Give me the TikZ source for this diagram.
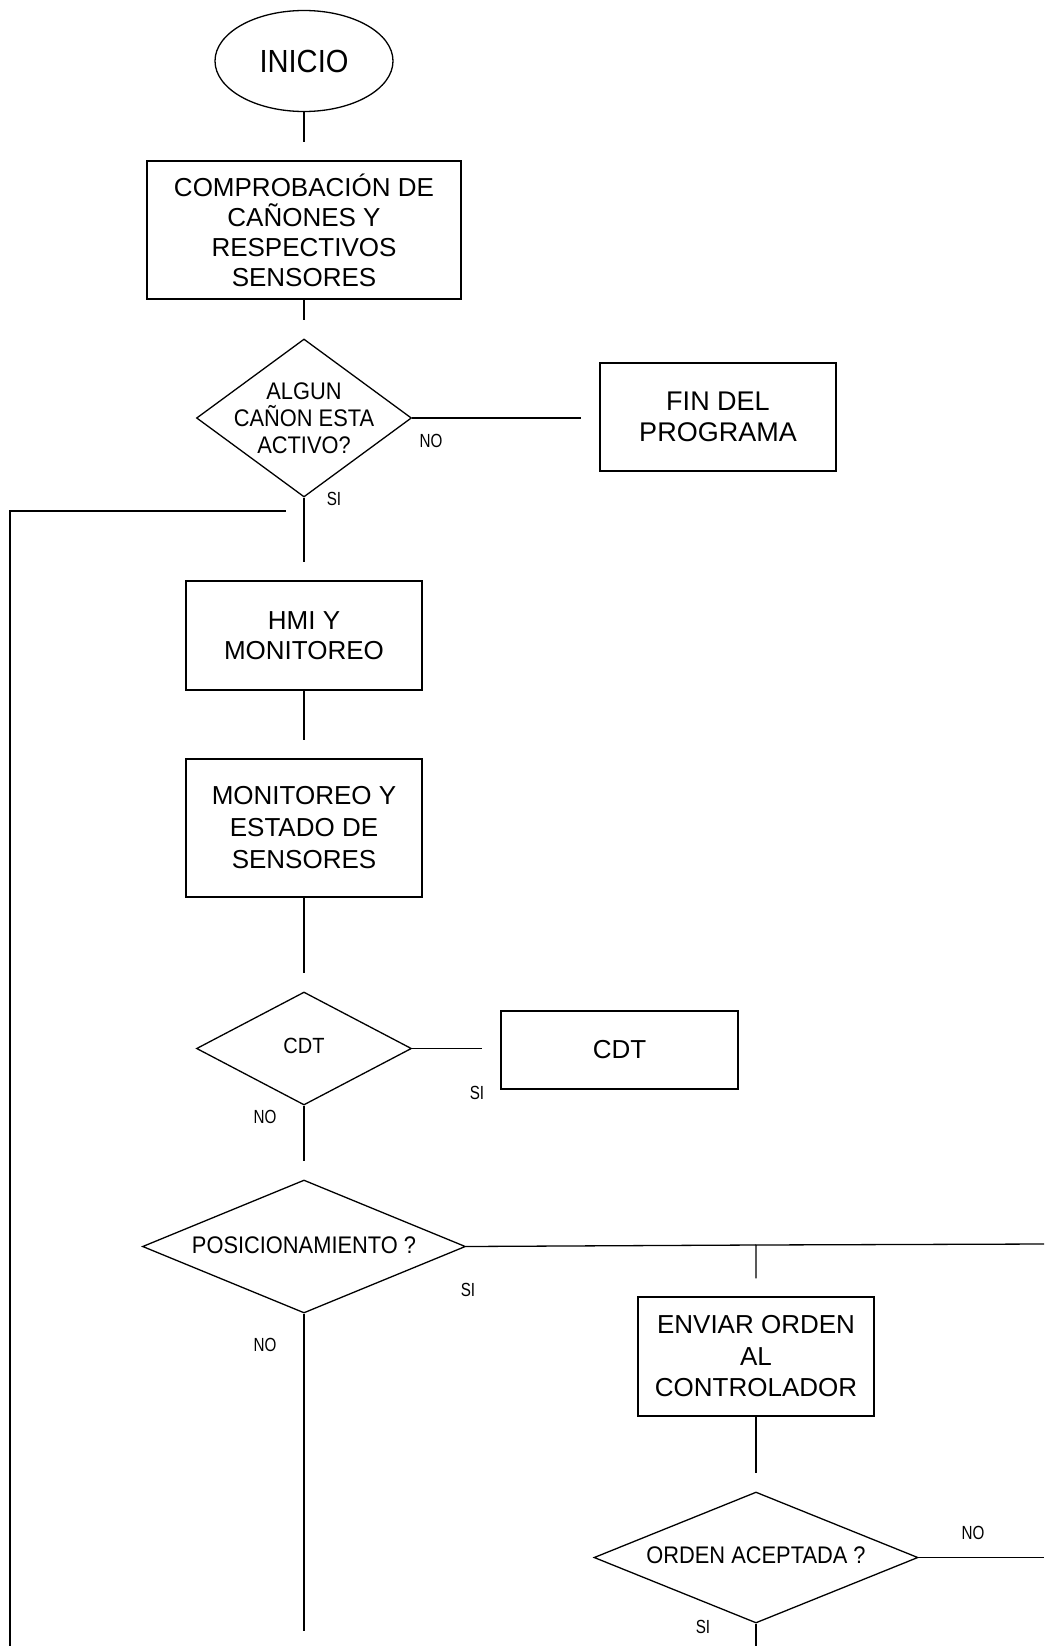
\documentclass[tikz,border=0pt]{standalone}
\usepackage{fontspec}
\setmainfont{Liberation Sans}
\newfontfamily\condsans[FakeStretch=0.91]{Liberation Sans}
\newfontfamily\narrowsans[FakeStretch=0.8]{Liberation Sans}
\usetikzlibrary{shapes.geometric}
\begin{document}
\begin{tikzpicture}[x=1pt,y=-1pt,
  every node/.style={font=\fontsize{26}{30}\selectfont, align=center},
  line/.style={line width=1.3pt},
  conn/.style={line width=1.3pt, shorten >=18pt},
  procbox/.style={draw, rectangle, line width=1.3pt, inner sep=0pt},
  decis/.style={draw, diamond, line width=1.3pt, inner sep=0pt},
  lbl/.style={font=\narrowsans\fontsize{19}{20}\selectfont, inner sep=0pt},
  dtxt/.style={font=\condsans\fontsize{24}{27}\selectfont, inner sep=0pt}]
\useasboundingbox (0,0) rectangle (1044,1646);
% nodes
\node[draw, ellipse, line width=1.3pt, minimum width=178pt, minimum height=101pt, inner sep=0pt, font=\condsans\fontsize{32}{36}\selectfont] (ini) at (304,61) {INICIO};
\node[procbox, minimum width=314pt, minimum height=138pt] (comp) at (304,230) {COMPROBACIÓN DE\\CAÑONES Y\\RESPECTIVOS\\SENSORES};
\node[decis, minimum width=215pt, minimum height=158pt] (d1) at (304,418) {};
\node[dtxt] (d1t) at (d1) {ALGUN\\CAÑON ESTA\\ACTIVO?};
\node[procbox, minimum width=236pt, minimum height=108pt, font=\fontsize{27}{31}\selectfont] (fin) at (718,417) {FIN DEL\\PROGRAMA};
\node[procbox, minimum width=236pt, minimum height=109pt, font=\fontsize{26}{30.5}\selectfont] (hmi) at (304,635.5) {HMI Y\\MONITOREO};
\node[procbox, minimum width=236pt, minimum height=138pt, font=\fontsize{26}{32}\selectfont] (mon) at (304,828) {MONITOREO Y\\ESTADO DE\\SENSORES};
\node[decis, minimum width=215pt, minimum height=113pt] (d2) at (304,1048.5) {};
\node[dtxt, font=\condsans\fontsize{22}{24}\selectfont] (d2t) at (304,1046) {CDT};
\node[procbox, minimum width=237pt, minimum height=78pt] (cdt) at (619.5,1050) {CDT};
\node[decis, minimum width=323pt, minimum height=133pt] (d3) at (304,1246.5) {};
\node[dtxt] (d3t) at (304,1245) {POSICIONAMIENTO ?};
\node[procbox, minimum width=236pt, minimum height=119pt, font=\fontsize{26}{31.5}\selectfont] (env) at (756,1356.5) {ENVIAR ORDEN\\AL\\CONTROLADOR};
\node[decis, minimum width=324pt, minimum height=131pt] (d4) at (756,1557.5) {};
\node[dtxt] (d4t) at (756,1555.5) {ORDEN ACEPTADA ?};
% free ends
\coordinate (lb) at (10,1646);
\coordinate (lt) at (10,511);
\coordinate (pend) at (304,1631);
\coordinate (j2) at (756,1245);
\coordinate (r1) at (1044,1244);
\coordinate (r2) at (1044,1557.5);
\coordinate (bend) at (756,1646);
% connectors
\draw[conn] (ini) -- (comp);
\draw[conn] (comp) -- (d1);
\draw[conn] (d1.east) -- (d1.east -| fin.west);
\draw[conn] (d1) -- (hmi);
\draw[conn] (hmi) -- (mon);
\draw[conn] (mon) -- (d2);
\draw[conn] (d2.east) -- (d2.east -| cdt.west);
\draw[conn] (d2) -- (d3);
\draw[conn] (lb) -- (lt) -- (lt -| d1.south);
\draw[line] (d3.south) -- (pend);
\draw[line] (d3.east) -- (j2);
\draw[conn] (r1) -- (j2) -- (env);
\draw[conn] (env) -- (d4);
\draw[line] (d4.east) -- (r2);
\draw[line] (d4.south) -- (bend);
% labels
\node[lbl] (l1) at (431,441) {NO};
\node[lbl] (l2) at (334,499) {SI};
\node[lbl] (l3) at (477,1093) {SI};
\node[lbl] (l4) at (265,1117) {NO};
\node[lbl] (l5) at (468,1290) {SI};
\node[lbl] (l6) at (265,1345) {NO};
\node[lbl] (l7) at (973,1533) {NO};
\node[lbl] (l8) at (703,1627) {SI};
\end{tikzpicture}
\end{document}
